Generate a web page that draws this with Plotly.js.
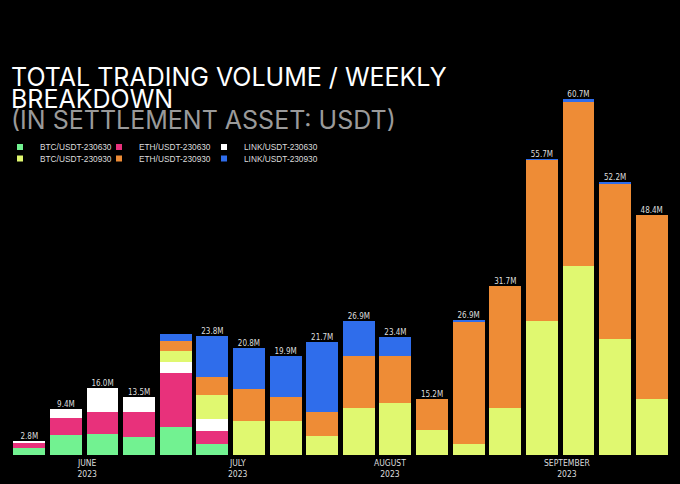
<!DOCTYPE html>
<html><head><meta charset="utf-8">
<script src="https://cdn.plot.ly/plotly-3.0.1.min.js"></script>
<style>html,body{margin:0;padding:0;background:#000;}</style>
</head><body><div id="chart" style="width:680px;height:484px;"></div>
<script>
// weekly bars (index 0..17), values in millions of USDT
const weeks = [0,1,2,3,4,5,6,7,8,9,10,11,12,13,14,15,16,17];
const totalLabels = ['2.8M','9.4M','16.0M','13.5M','','23.8M','20.8M','19.9M','21.7M','26.9M','23.4M','15.2M','26.9M','31.7M','55.7M','60.7M','52.2M','48.4M'];

const btc230630  = [1.3, 3.9, 4.2, 3.6, 5.5, 2.2, null,null,null,null,null,null,null,null,null,null,null,null];
const eth230630  = [1.05,3.3, 4.3, 4.9, 10.5,2.6, null,null,null,null,null,null,null,null,null,null,null,null];
const link230630 = [0.3, 1.8, 4.6, 2.9, 2.2, 2.3, null,null,null,null,null,null,null,null,null,null,null,null];
const btc230930  = [null,null,null,null,2.1, 4.7, 6.7, 6.7, 3.7, 9.3, 10.1, 4.9, 2.2, 9.2, 26.3, 37.1, 22.7, 11.0];
const eth230930  = [null,null,null,null,2.1, 3.5, 6.3, 4.7, 4.7, 10.1, 9.3, 6.1, 23.8, 23.9, 31.6, 32.2, 30.5, 36.1];
const link230930 = [null,null,null,null,1.3, 8.1, 8.0, 8.0, 13.7, 6.9, 3.8, null, 0.4, 0.1, 0.1, 0.6, 0.3, null];

const monthTicks = [1.57, 5.70, 9.85, 14.69];
const monthLabels = ['JUNE<br>2023','JULY<br>2023','AUGUST<br>2023','SEPTEMBER<br>2023'];

const series = [
  {name:'BTC/USDT-230630', y:btc230630,  color:'#72F291'},
  {name:'ETH/USDT-230630', y:eth230630,  color:'#E8317B'},
  {name:'LINK/USDT-230630',y:link230630, color:'#FFFFFF'},
  {name:'BTC/USDT-230930', y:btc230930,  color:'#E0F870'},
  {name:'ETH/USDT-230930', y:eth230930,  color:'#EE8C36'},
  {name:'LINK/USDT-230930',y:link230930, color:'#2F6DEB'}
];

const narrow = 'Liberation Sans Narrow, Arial Narrow, DejaVu Sans Condensed, sans-serif';
const legendIds = ['legend','legend2','legend3','legend4','legend5','legend6'];
const traces = [];
series.forEach(s => {
  traces.push({type:'bar', x:weeks, y:s.y, name:s.name, marker:{color:s.color}, showlegend:false, hoverinfo:'skip'});
});
series.forEach((s,i) => {
  traces.push({type:'scatter', mode:'markers', x:[null], y:[null], name:s.name, legend:legendIds[i],
    marker:{symbol:'square', size:6, color:s.color}, showlegend:true});
});
const totals = weeks.map(i => series.reduce((a,s)=>a+(s.y[i]||0),0));
traces.push({type:'scatter', mode:'text', x:weeks, y:totals, text:totalLabels, textposition:'top center',
  textfont:{family:narrow, size:8, color:'#dddddd'}, showlegend:false, hoverinfo:'skip', cliponaxis:false});

const P = y => (455 - y) / 375;
const titleFont = 'Inter, DejaVu Sans, sans-serif';
const big = t => "<span style='font-size:25px'>" + t + "</span>";
const annotations = [
  {text: big('TOTAL TRADING VOLUME / WEEKLY') + '<br>' + big('BREAKDOWN') + '<br>' +
         "<span style='font-size:25px;color:#9a9a9a'>(IN SETTLEMENT ASSET: USDT)</span>",
   x:-2/659, y:P(98), xref:'paper', yref:'paper', xanchor:'left', yanchor:'middle', align:'left', showarrow:false,
   font:{family:titleFont, size:16.7, color:'#ffffff'}}
];
monthTicks.forEach((m,i) => {
  annotations.push({text:monthLabels[i], x:m, xref:'x', y:P(468.5), yref:'paper', showarrow:false,
    xanchor:'center', yanchor:'middle', font:{family:narrow, size:8.5, color:'#dddddd'}});
});

// legend layout: three columns, two rows
const colX = [-5, 99, 204];
const rowY = [147, 158.5];
const layoutLegends = {};
legendIds.forEach((id,i) => {
  layoutLegends[id] = {orientation:'h', xref:'container', yref:'container',
    x: colX[i % 3] / 680, y: 1 - rowY[Math.floor(i / 3)] / 484, xanchor:'left', yanchor:'middle',
    bgcolor:'rgba(0,0,0,0)', font:{family:'Liberation Sans, Arial, sans-serif', size:8.3, color:'#dddddd'},
    itemclick:false, itemdoubleclick:false};
});

const layout = Object.assign({
  width:680, height:484,
  paper_bgcolor:'#000', plot_bgcolor:'#000',
  margin:{l:11, r:10, t:80, b:29, autoexpand:false},
  barmode:'stack', bargap:0.13,
  xaxis:{range:[-0.5,17.5], showgrid:false, zeroline:false, showline:false, showticklabels:false, ticks:''},
  yaxis:{range:[0, 375/5.1], showgrid:false, zeroline:false, showline:false, showticklabels:false, ticks:''},
  annotations:annotations,
  showlegend:true
}, layoutLegends);
Plotly.newPlot('chart', traces, layout, {staticPlot:true, displayModeBar:false});
</script></body></html>
